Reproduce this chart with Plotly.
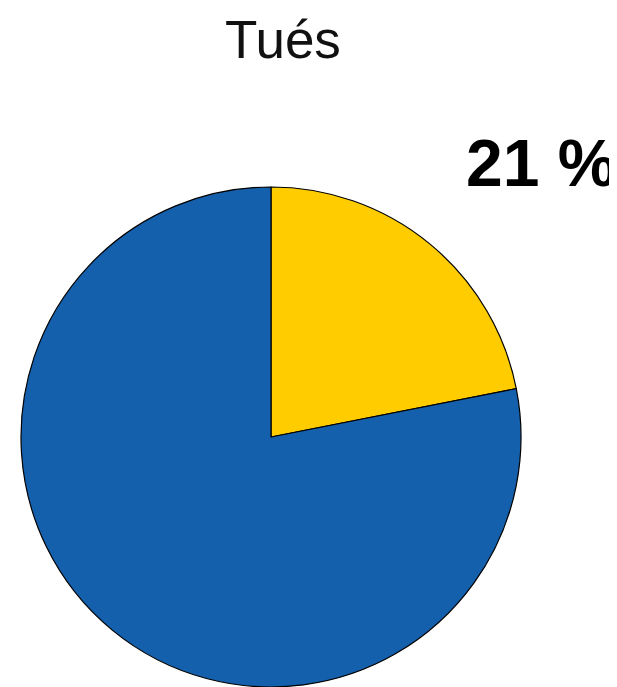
import plotly.graph_objects as go

W, H = 617, 687

labels = ["Tués (part)", "Autres"]
values = [21.9, 78.1]
colors = ["#FFCC00", "#1560AC"]
title_text = "Tués"
pct_label = "21 %"

cx, cy, r = 263, 429, 250

fig = go.Figure(go.Pie(
    labels=labels,
    values=values,
    sort=False,
    direction="clockwise",
    rotation=0,
    marker=dict(colors=colors, line=dict(color="#000000", width=1.2)),
    textinfo="none",
    hoverinfo="label+percent",
    showlegend=False,
    domain=dict(x=[(cx - r) / W, (cx + r) / W], y=[1 - (cy + r) / H, 1 - (cy - r) / H]),
))

fig.update_layout(
    width=W, height=H,
    margin=dict(l=0, r=0, t=0, b=0),
    paper_bgcolor="white",
    plot_bgcolor="white",
    annotations=[
        dict(text=title_text, x=275 / W, y=1 - 31 / H, xref="paper", yref="paper",
             xanchor="center", yanchor="middle", showarrow=False,
             font=dict(family="Liberation Sans, Arial, sans-serif", size=53, color="#111111")),
        dict(text="<b>" + pct_label + "</b>", x=610 / W, y=1 - 155 / H, xref="paper", yref="paper",
             xanchor="right", yanchor="middle", showarrow=False,
             font=dict(family="Liberation Sans, Arial, sans-serif", size=66, color="#000000")),
    ],
)

fig.write_html("out.html")
